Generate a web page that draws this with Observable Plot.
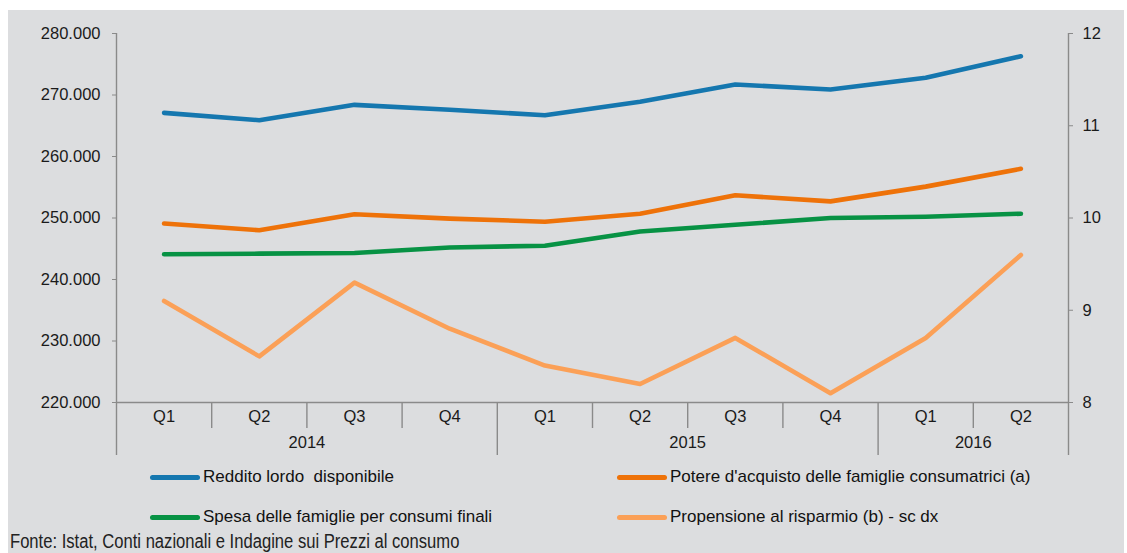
<!DOCTYPE html>
<html>
<head>
<meta charset="utf-8">
<script src="https://cdn.jsdelivr.net/npm/d3@7"></script>
<script src="https://cdn.jsdelivr.net/npm/@observablehq/plot@0.6"></script>
<style>
  html, body { margin: 0; padding: 0; background: #ffffff; }
  #wrap { position: absolute; left: 8px; top: 10px; width: 1116px; height: 543px; background: #DCDDDF; overflow: visible; }
  #chart svg { display: block; }
  .leg { position: absolute; font-family: "Liberation Sans", Arial, sans-serif; font-size: 17px; color: #111; white-space: pre; line-height: 20px; }
  .sw { position: absolute; height: 5px; border-radius: 3px; }
  #caption { position: absolute; left: 2px; top: 519px; font-family: "Liberation Sans", Arial, sans-serif; font-size: 20px; color: #222; white-space: pre; line-height: 24px; transform: scaleX(0.83); transform-origin: 0 0; }
</style>
</head>
<body>
<div id="wrap">
  <div id="chart"></div>
  <div id="legend"></div>
  <div id="caption"></div>
</div>
<script>
// ---- data ----
const quarters = ["Q1", "Q2", "Q3", "Q4", "Q1", "Q2", "Q3", "Q4", "Q1", "Q2"];
const years = ["2014", "2014", "2014", "2014", "2015", "2015", "2015", "2015", "2016", "2016"];
const reddito = [267100, 265900, 268400, 267600, 266700, 268900, 271700, 270900, 272800, 276300];
const potere = [249100, 248000, 250600, 249900, 249400, 250700, 253700, 252700, 255100, 258000];
const spesa = [244100, 244200, 244300, 245200, 245500, 247800, 248900, 250000, 250200, 250700];
const propensione = [9.1, 8.5, 9.3, 8.8, 8.4, 8.2, 8.7, 8.1, 8.7, 9.6];
const seriesNames = [
  "Reddito lordo  disponibile",
  "Potere d'acquisto delle famiglie consumatrici (a)",
  "Spesa delle famiglie per consumi finali",
  "Propensione al risparmio (b) - sc dx"
];
const seriesColors = ["#1577AF", "#EE7209", "#079244", "#FBA057"];
const leftTicks = [220000, 230000, 240000, 250000, 260000, 270000, 280000];
const rightTicks = [8, 9, 10, 11, 12];
const caption = "Fonte: Istat, Conti nazionali e Indagine sui Prezzi al consumo";

// ---- scales helpers ----
const leftDomain = [220000, 280000];
const rightDomain = [8, 12];
const toLeft = v => leftDomain[0] + (v - rightDomain[0]) * (leftDomain[1] - leftDomain[0]) / (rightDomain[1] - rightDomain[0]);
const fromLeft = v => rightDomain[0] + (v - leftDomain[0]) * (rightDomain[1] - rightDomain[0]) / (leftDomain[1] - leftDomain[0]);
const itFormat = d3.formatLocale({decimal: ",", thousands: ".", grouping: [3], currency: ["", "€"]}).format(",d");

const n = quarters.length;
const rows = quarters.map((q, i) => ({i, q, year: years[i]}));
const seriesValues = [reddito, potere, spesa, propensione.map(toLeft)];
const data = seriesNames.flatMap((name, s) => seriesValues[s].map((v, i) => ({i, name, v})));
const qSep = d3.range(1, n).filter(i => years[i] === years[i - 1]).map(i => i - 0.5);
const ySep = d3.range(1, n).filter(i => years[i] !== years[i - 1]).map(i => i - 0.5);
const yearLabels = d3.groups(rows, d => d.year).map(([year, r]) => ({year, x: d3.mean(r, d => d.i)}));
const axisColor = "#8A8A8A";
const font = "Liberation Sans, Arial, sans-serif";

const chart = Plot.plot({
  width: 1116,
  height: 455,
  marginLeft: 108,
  marginRight: 56,
  marginTop: 23,
  marginBottom: 63,
  style: {background: "transparent", fontFamily: font, fontSize: "16.5px", color: "#1a1a1a", overflow: "visible"},
  x: {domain: [-0.5, n - 0.5], axis: null},
  y: {domain: leftDomain, axis: null},
  color: {domain: seriesNames, range: seriesColors},
  marks: [
    Plot.ruleY([leftDomain[0]], {stroke: axisColor, strokeWidth: 1.4}),
    Plot.ruleX([-0.5, n - 0.5], {y1: leftDomain[1], y2: leftDomain[0], insetBottom: -53, stroke: axisColor, strokeWidth: 1.4}),
    Plot.ruleX(qSep, {y1: leftDomain[0], y2: leftDomain[0], insetBottom: -26, stroke: axisColor, strokeWidth: 1.4}),
    Plot.ruleX(ySep, {y1: leftDomain[0], y2: leftDomain[0], insetBottom: -53, stroke: axisColor, strokeWidth: 1.4}),
    Plot.axisY({ticks: leftTicks, anchor: "left", tickSize: 4, tickPadding: 12, tickFormat: itFormat, stroke: axisColor, fontSize: 16.5, label: null}),
    Plot.axisY({ticks: rightTicks.map(toLeft), anchor: "right", tickSize: 4, tickPadding: 10, tickFormat: d => String(Math.round(fromLeft(d))), stroke: axisColor, fontSize: 16.5, label: null}),
    Plot.text(rows, {x: "i", frameAnchor: "bottom", lineAnchor: "middle", dy: 14, text: "q", fontSize: 16.5, fill: "#1a1a1a"}),
    Plot.text(yearLabels, {x: "x", frameAnchor: "bottom", lineAnchor: "middle", dy: 40, text: "year", fontSize: 16.5, fill: "#1a1a1a"}),
    Plot.line(data, {x: "i", y: "v", z: "name", stroke: "name", strokeWidth: 4.6, strokeLinecap: "round", strokeLinejoin: "round"})
  ]
});
document.getElementById("chart").appendChild(chart);

// ---- legend ----
const legend = document.getElementById("legend");
const legPos = [
  {sx: 142, ty: 467}, {sx: 609, ty: 467},
  {sx: 142, ty: 507}, {sx: 609, ty: 507}
];
seriesNames.forEach((name, k) => {
  const p = legPos[k];
  const sw = document.createElement("div");
  sw.className = "sw";
  sw.style.left = p.sx + "px";
  sw.style.width = "50px";
  sw.style.top = (p.ty - 2.5) + "px";
  sw.style.background = seriesColors[k];
  legend.appendChild(sw);
  const t = document.createElement("div");
  t.className = "leg";
  t.style.left = (p.sx + 53) + "px";
  t.style.top = (p.ty - 10) + "px";
  t.textContent = name;
  legend.appendChild(t);
});
document.getElementById("caption").textContent = caption;
</script>
</body>
</html>
